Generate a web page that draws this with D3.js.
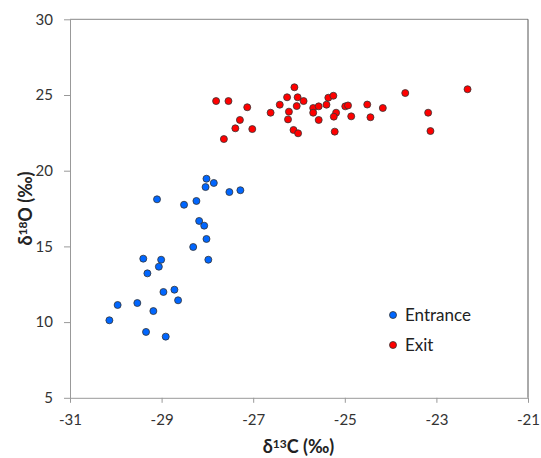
<!DOCTYPE html>
<html><head><meta charset="utf-8">
<script src="https://cdn.jsdelivr.net/npm/d3@7"></script>
<style>body{margin:0;background:#fff;} svg{display:block;}</style>
</head><body>
<svg id="c" width="541" height="458"></svg>
<script>
const entranceX = [-28.02,-27.86,-28.04,-27.52,-27.28,-29.10,-28.51,-28.24,-28.18,-28.07,-28.02,-28.31,-29.40,-29.01,-29.06,-27.98,-29.31,-28.96,-28.72,-28.64,-29.96,-29.53,-29.18,-30.14,-29.34,-28.91];
const entranceY = [19.47,19.19,18.92,18.59,18.71,18.11,17.75,18.00,16.68,16.37,15.49,14.96,14.19,14.12,13.66,14.12,13.22,11.99,12.14,11.44,11.13,11.26,10.73,10.12,9.35,9.04];
const exitX = [-27.81,-27.54,-27.13,-27.29,-27.39,-27.02,-27.64,-26.62,-26.42,-26.26,-26.10,-26.03,-25.90,-26.05,-26.22,-26.24,-26.12,-26.02,-25.69,-25.69,-25.57,-25.57,-25.40,-25.36,-25.25,-25.19,-25.24,-25.22,-24.99,-24.93,-24.86,-24.51,-24.44,-24.17,-23.68,-23.18,-23.13,-22.32];
const exitY = [24.60,24.60,24.19,23.35,22.80,22.75,22.09,23.83,24.36,24.85,25.51,24.85,24.60,24.27,23.90,23.39,22.69,22.47,24.14,23.83,24.25,23.35,24.36,24.82,24.95,23.83,23.57,22.58,24.25,24.31,23.59,24.37,23.53,24.14,25.13,23.83,22.62,25.38];
const xTicks = [-31,-29,-27,-25,-23,-21];
const yTicks = [5,10,15,20,25,30];
const seriesNames = ["Entrance","Exit"];
const seriesColors = ["#0066ff","#ff0000"];

const svg = d3.select("#c");
const L=70, R=528, T=19.3, B=397.8;
const x = d3.scaleLinear().domain([-31,-21]).range([L,R]);
const y = d3.scaleLinear().domain([5,30]).range([B,T]);
const font = "Lato, 'Open Sans', sans-serif";

// frame
svg.append("line").attr("x1",L).attr("x2",R).attr("y1",T).attr("y2",T).attr("stroke","#888").attr("stroke-width",1);
svg.append("line").attr("x1",R).attr("x2",R).attr("y1",T).attr("y2",B).attr("stroke","#555").attr("stroke-width",1);

const xa = svg.append("g").attr("transform",`translate(0,${B})`)
  .call(d3.axisBottom(x).tickValues(xTicks).tickSize(5).tickPadding(12).tickSizeOuter(0).tickFormat(d=>d));
const ya = svg.append("g").attr("transform",`translate(${L},0)`)
  .call(d3.axisLeft(y).tickValues(yTicks).tickSize(6).tickPadding(11).tickSizeOuter(0));
[xa,ya].forEach(a=>{
  a.select(".domain").attr("stroke","#999");
  a.selectAll(".tick line").attr("stroke","#999");
  a.selectAll(".tick text").attr("fill","#333").style("font-family",font).style("font-size","15px");
});
xa.selectAll(".tick text").text(d=>d<0?"-"+Math.abs(d):d);

const series = [
  {name:seriesNames[0], xs:entranceX, ys:entranceY, color:seriesColors[0]},
  {name:seriesNames[1], xs:exitX, ys:exitY, color:seriesColors[1]}
];
series.forEach(s=>{
  svg.append("g").selectAll("circle").data(s.xs.map((v,i)=>[v,s.ys[i]])).join("circle")
    .attr("cx",d=>x(d[0])).attr("cy",d=>y(d[1])).attr("r",3.5)
    .attr("fill",s.color).attr("stroke","#333").attr("stroke-width",0.8);
});

// legend
series.forEach((s,i)=>{
  const ly = 315 + i*30;
  svg.append("circle").attr("cx",393).attr("cy",ly).attr("r",3.5).attr("fill",s.color).attr("stroke","#333").attr("stroke-width",0.8);
  svg.append("text").attr("x",405).attr("y",ly+6).text(s.name)
    .style("font-family",font).style("font-size","17px").attr("fill","#222");
});

// axis titles
const xt = svg.append("text").attr("x",298.5).attr("y",453).attr("text-anchor","middle")
  .style("font-family",font).style("font-size","18px").style("font-weight","bold").attr("fill","#222");
xt.append("tspan").text("δ");
xt.append("tspan").text("13").attr("dy",-5).style("font-size","12px");
xt.append("tspan").text("C (‰)").attr("dy",5);

const yt = svg.append("text").attr("transform",`translate(31.5,${(T+B)/2}) rotate(-90)`).attr("text-anchor","middle")
  .style("font-family",font).style("font-size","18px").style("font-weight","bold").attr("fill","#222");
yt.append("tspan").text("δ");
yt.append("tspan").text("18").attr("dy",-5).style("font-size","12px");
yt.append("tspan").text("O (‰)").attr("dy",5);
</script>
</body></html>
